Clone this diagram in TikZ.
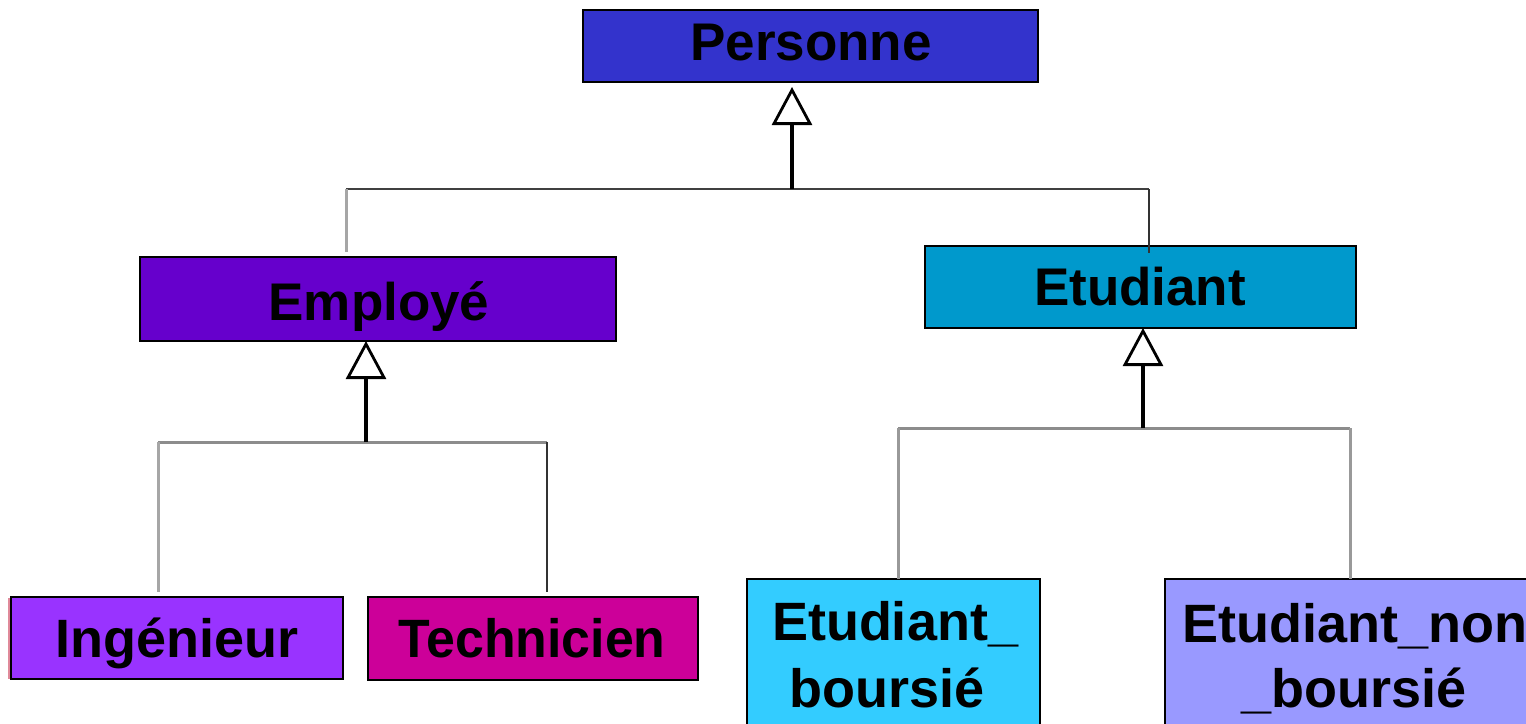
\documentclass[tikz,border=0pt]{standalone}
\usepackage{fontspec}
\setmainfont{Liberation Sans}
\usetikzlibrary{arrows.meta}
\definecolor{cPers}{HTML}{3333CC}
\definecolor{cEmp}{HTML}{6600CC}
\definecolor{cEtu}{HTML}{0099CC}
\definecolor{cIng}{HTML}{9933FF}
\definecolor{cTec}{HTML}{CC0099}
\definecolor{cBou}{HTML}{33CCFF}
\definecolor{cNon}{HTML}{9999FF}
\definecolor{pinkedge}{HTML}{E08A9A}
\begin{document}
\begin{tikzpicture}[x=1pt,y=-1pt,
  cls/.style={draw=black, line width=2pt, inner sep=0pt, outer sep=0pt},
  lbl/.style={inner sep=0pt, outer sep=0pt, anchor=base, text=black,
    font=\bfseries\fontsize{53}{60}\selectfont},
  lbls/.style={lbl, font=\bfseries\fontsize{54}{60}\selectfont},
  stem/.style={line width=4.5pt, draw=black,
    -{Triangle[open, length=38pt, width=40pt, line width=2.8pt]}},
  hdark/.style={draw=black!75, line width=2.6pt},
  hgray/.style={draw=black!45, line width=3pt},
  vlight/.style={draw=black!35, line width=3pt},
  vdark/.style={draw=black!80, line width=2.3pt},
  vgray/.style={draw=black!40, line width=3pt}
]
\useasboundingbox (0,0) rectangle (1526,723);
\clip (0,0) rectangle (1526,723);

% class boxes
\node[cls, fill=cPers, minimum width=455pt, minimum height=72pt] (pers) at (810.5,46) {};
\node[cls, fill=cEmp, minimum width=476pt, minimum height=84pt] (emp) at (378,299) {};
\node[cls, fill=cEtu, minimum width=431pt, minimum height=82pt] (etu) at (1140.5,287) {};
\node[cls, fill=cIng, minimum width=332pt, minimum height=82pt] (ing) at (177,638) {};
\node[cls, fill=cTec, minimum width=330pt, minimum height=83pt] (tec) at (533,638.5) {};
\node[cls, fill=cBou, minimum width=293pt, minimum height=201pt] (bou) at (893.5,679.5) {};
\node[cls, fill=cNon, minimum width=435pt, minimum height=201pt] (non) at (1382.5,679.5) {};

% faint edge at the left of Ingénieur
\draw[pinkedge, line width=2pt] (ing.north west) ++(-2,1) -- ++(0,81);

% class names
\node[lbl] (perst) at (811,60) {Personne};
\node[lbl] (empt) at (379,320) {Employé};
\node[lbl] (etut) at (1140,305) {Etudiant};
\node[lbls] (ingt) at (177,657) {Ingénieur};
\node[lbls] (tect) at (532,657) {\scalebox{0.96}[1]{Technicien}};
\node[lbls] (bou1) at (895,640) {Etudiant\_};
\node[lbls] (bou2) at (887,707) {boursié};
\node[lbls] (non1) at (1355,642) {Etudiant\_non};
\node[lbls] (non2) at (1354,707) {\_boursié};

% Personne <- Employé, Etudiant
\coordinate (pj) at (792,189);
\coordinate (pa) at (346,189);
\coordinate (pb) at (1149,189);
\draw[hdark] (pa) -- (pb);
\draw[vlight] (pa) -- ([yshift=5pt]pa |- emp.north);
\draw[vdark] (pb) -- ([yshift=-7pt]pb |- etu.north);
\draw[stem, shorten >=5pt] (pj) -- (pj |- pers.south);

% Employé <- Ingénieur, Technicien
\coordinate (ej) at (366,442);
\coordinate (ea) at (158,442);
\coordinate (eb) at (547,442);
\draw[hgray] (ea) -- (eb);
\draw[vlight] (ea) -- ([yshift=5pt]ea |- ing.north);
\draw[vdark] (eb) -- ([yshift=5pt]eb |- tec.north);
\draw[stem] (ej) -- (ej |- emp.south);

% Etudiant <- Etudiant_boursié, Etudiant_non_boursié
\coordinate (sj) at (1143,428);
\coordinate (sa) at (898,428);
\coordinate (sb) at (1350,428);
\draw[hgray] (sa) -- (sb);
\draw[vgray] (sa) -- (sa |- bou.north);
\draw[vgray] (sb) -- (sb |- non.north);
\draw[stem] (sj) -- (sj |- etu.south);
\end{tikzpicture}
\end{document}
